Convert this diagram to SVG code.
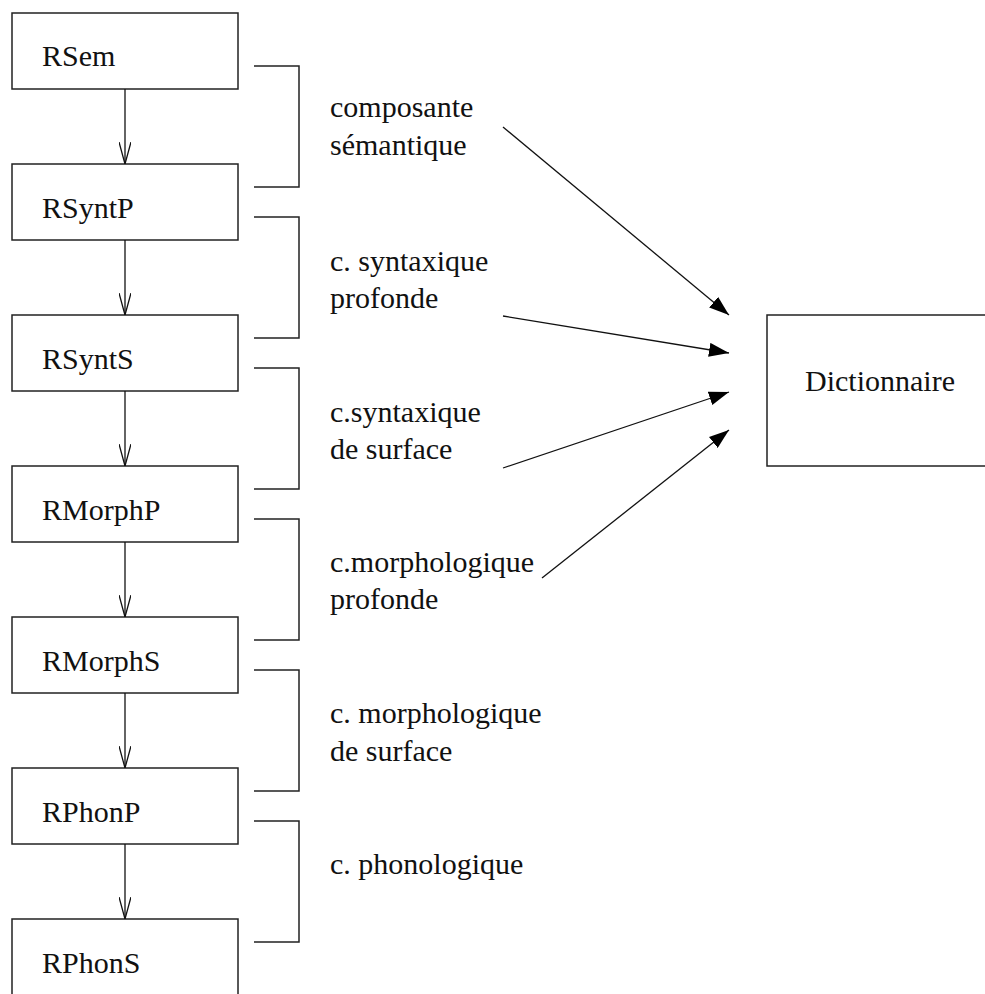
<svg xmlns="http://www.w3.org/2000/svg" width="985" height="994" viewBox="0 0 985 994">
  <style>
    .box { fill: #fff; stroke: #222; stroke-width: 1.5; }
    .flow { fill: none; stroke: #111; stroke-width: 1.3; }
    .brk { fill: none; stroke: #222; stroke-width: 1.5; }
  </style>
  <defs>
    <marker id="openHead" viewBox="0 0 22 12" refX="22" refY="6" markerWidth="22" markerHeight="12" markerUnits="userSpaceOnUse" orient="auto">
      <path d="M0,0 L22,6 L0,12" fill="none" stroke="#111" stroke-width="1.3"/>
    </marker>
    <marker id="solidHead" viewBox="0 0 20 14" refX="20" refY="7" markerWidth="20" markerHeight="14" markerUnits="userSpaceOnUse" orient="auto">
      <path d="M0,0 L20,7 L0,14 z" fill="#000"/>
    </marker>
  </defs>

  <rect width="985" height="994" fill="#fff"/>

  <g font-family="Liberation Serif, DejaVu Serif, serif" font-size="30" fill="#111">
    <!-- representation levels -->
    <g id="RSem"><rect class="box" x="12" y="13" width="226" height="76"/><text x="42" y="66">RSem</text></g>
    <g id="RSyntP"><rect class="box" x="12" y="164" width="226" height="76"/><text x="42" y="218">RSyntP</text></g>
    <g id="RSyntS"><rect class="box" x="12" y="315" width="226" height="76"/><text x="42" y="369">RSyntS</text></g>
    <g id="RMorphP"><rect class="box" x="12" y="466" width="226" height="76"/><text x="42" y="520">RMorphP</text></g>
    <g id="RMorphS"><rect class="box" x="12" y="617" width="226" height="76"/><text x="42" y="671">RMorphS</text></g>
    <g id="RPhonP"><rect class="box" x="12" y="768" width="226" height="76"/><text x="42" y="822">RPhonP</text></g>
    <g id="RPhonS"><rect class="box" x="12" y="919" width="226" height="82"/><text x="42" y="973">RPhonS</text></g>

    <!-- lexicon -->
    <g id="Dictionnaire"><rect class="box" x="767" y="315" width="230" height="151"/><text x="805" y="391">Dictionnaire</text></g>

    <!-- component labels -->
    <g id="labels">
      <text x="330" y="117">composante</text>
      <text x="330" y="155">sémantique</text>
      <text x="330" y="271">c. syntaxique</text>
      <text x="330" y="308">profonde</text>
      <text x="330" y="422">c.syntaxique</text>
      <text x="330" y="459">de surface</text>
      <text x="330" y="572">c.morphologique</text>
      <text x="330" y="609">profonde</text>
      <text x="330" y="723">c. morphologique</text>
      <text x="330" y="761">de surface</text>
      <text x="330" y="874">c. phonologique</text>
    </g>
  </g>

  <!-- connectors -->
  <g id="connectors">
    <line class="flow" x1="125" y1="89" x2="125" y2="164" marker-end="url(#openHead)"/>
    <line class="flow" x1="125" y1="240" x2="125" y2="315" marker-end="url(#openHead)"/>
    <line class="flow" x1="125" y1="391" x2="125" y2="466" marker-end="url(#openHead)"/>
    <line class="flow" x1="125" y1="542" x2="125" y2="617" marker-end="url(#openHead)"/>
    <line class="flow" x1="125" y1="693" x2="125" y2="768" marker-end="url(#openHead)"/>
    <line class="flow" x1="125" y1="844" x2="125" y2="919" marker-end="url(#openHead)"/>

    <path class="brk" d="M254,66 H299 V187 H254"/>
    <path class="brk" d="M254,217 H299 V338 H254"/>
    <path class="brk" d="M254,368 H299 V489 H254"/>
    <path class="brk" d="M254,519 H299 V640 H254"/>
    <path class="brk" d="M254,670 H299 V791 H254"/>
    <path class="brk" d="M254,821 H299 V942 H254"/>

    <line class="flow" x1="503" y1="127" x2="729" y2="315" marker-end="url(#solidHead)"/>
    <line class="flow" x1="503" y1="316" x2="729" y2="353" marker-end="url(#solidHead)"/>
    <line class="flow" x1="503" y1="468" x2="729" y2="392" marker-end="url(#solidHead)"/>
    <line class="flow" x1="542" y1="578" x2="729" y2="430" marker-end="url(#solidHead)"/>
  </g>
</svg>
